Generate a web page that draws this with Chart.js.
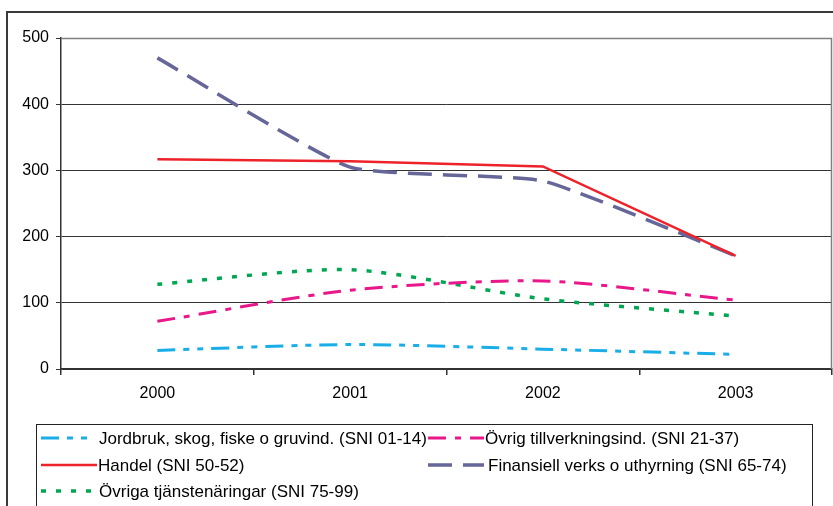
<!DOCTYPE html>
<html>
<head>
<meta charset="utf-8">
<script src="https://cdn.jsdelivr.net/npm/chart.js@4/dist/chart.umd.min.js"></script>
<style>
  html, body { margin: 0; padding: 0; background: #fff; overflow: hidden; }
  #wrap { width: 833px; height: 506px; }
</style>
</head>
<body>
<div id="wrap"><canvas id="chart" width="833" height="506"></canvas></div>
<script>
const years = ["2000", "2001", "2002", "2003"];

const jordbruk = [28, 37, 30, 22];
const tillverkning = [72, 119, 133, 104];
const handel = [317, 314, 306, 171];
const finansiell = [470, 305, 284, 171];
const tjanster = [128, 150, 106, 80];

const seriesNames = [
  "Jordbruk, skog, fiske o gruvind. (SNI 01-14)",
  "Övrig tillverkningsind. (SNI 21-37)",
  "Handel (SNI 50-52)",
  "Finansiell verks o uthyrning (SNI 65-74)",
  "Övriga tjänstenäringar (SNI 75-99)"
];

const FONT = "'Liberation Sans', Arial, sans-serif";

// outer frame, plot border, legend box
const framePlugin = {
  id: "frame",
  beforeDraw(chart) {
    const ctx = chart.ctx;
    ctx.save();
    ctx.fillStyle = "#fff";
    ctx.fillRect(0, 0, chart.width, chart.height);
    ctx.strokeStyle = "#3a3a3a";
    ctx.lineWidth = 2;
    ctx.strokeRect(7, 12, 860, 520);
    ctx.restore();
  },
  afterDatasetsDraw(chart) {
    const { ctx, chartArea } = chart;
    ctx.save();
    ctx.strokeStyle = "#808080";
    ctx.lineWidth = 1.5;
    ctx.beginPath();
    ctx.moveTo(chartArea.left, chartArea.top + 0.5);
    ctx.lineTo(chartArea.right - 0.5, chartArea.top + 0.5);
    ctx.lineTo(chartArea.right - 0.5, chartArea.bottom);
    ctx.stroke();
    ctx.restore();
  },
  afterDraw(chart) {
    const ctx = chart.ctx;
    ctx.save();
    ctx.strokeStyle = "#222";
    ctx.lineWidth = 1;
    ctx.strokeRect(36.5, 424.5, 776, 100);

    const spots = [
      { lx: 41, lw: 51, tx: 99, y: 438 },
      { lx: 428, lw: 56, tx: 485, y: 438 },
      { lx: 41, lw: 56, tx: 98, y: 465 },
      { lx: 428, lw: 56, tx: 488, y: 465 },
      { lx: 41, lw: 51, tx: 99, y: 491 }
    ];
    chart.data.datasets.forEach((ds, i) => {
      const s = spots[i];
      ctx.strokeStyle = ds.borderColor;
      ctx.lineWidth = ds.borderWidth;
      ctx.setLineDash(ds.borderDash || []);
      ctx.beginPath();
      ctx.moveTo(s.lx, s.y);
      ctx.lineTo(s.lx + s.lw, s.y);
      ctx.stroke();
      ctx.setLineDash([]);
      ctx.fillStyle = "#000";
      ctx.font = "17px " + FONT;
      ctx.textBaseline = "middle";
      ctx.textAlign = "left";
      ctx.fillText(ds.label, s.tx, s.y + 1);
    });
    ctx.restore();
  }
};

new Chart(document.getElementById("chart"), {
  type: "line",
  plugins: [framePlugin],
  data: {
    labels: years,
    datasets: [
      {
        label: seriesNames[0],
        data: jordbruk,
        borderColor: "#19aee8",
        borderWidth: 3,
        borderDash: [18, 8, 6, 8, 6, 8],
        tension: 0.25
      },
      {
        label: seriesNames[1],
        data: tillverkning,
        borderColor: "#e8178a",
        borderWidth: 3,
        borderDash: [18, 9, 6, 9],
        tension: 0.25
      },
      {
        label: seriesNames[2],
        data: handel,
        borderColor: "#ee2229",
        borderWidth: 2.5,
        tension: 0
      },
      {
        label: seriesNames[3],
        data: finansiell,
        borderColor: "#666699",
        borderWidth: 3.5,
        borderDash: [24, 11],
        tension: 0.15
      },
      {
        label: seriesNames[4],
        data: tjanster,
        borderColor: "#00a651",
        borderWidth: 3.5,
        borderDash: [5, 10],
        tension: 0.25
      }
    ]
  },
  options: {
    responsive: false,
    animation: false,
    layout: { padding: { left: 0, top: 38, right: 1, bottom: 0 } },
    elements: {
      point: { radius: 0, hoverRadius: 0 },
      line: { borderCapStyle: "butt", fill: false }
    },
    plugins: {
      legend: { display: false },
      tooltip: { enabled: false },
      title: { display: false }
    },
    scales: {
      x: {
        offset: true,
        afterFit(scale) { scale.height = 137; },
        grid: {
          offset: true,
          drawOnChartArea: false,
          drawTicks: true,
          tickLength: 6,
          color: "#333",
          lineWidth: 1.5
        },
        border: { color: "#333", width: 1.5 },
        ticks: {
          color: "#000",
          font: { size: 16, family: FONT },
          padding: 9,
          maxRotation: 0
        }
      },
      y: {
        min: 0,
        max: 500,
        afterFit(scale) { scale.width = 61; },
        grid: {
          color: "#333",
          lineWidth: 1,
          tickLength: 5,
          drawTicks: true
        },
        border: { color: "#333", width: 1.5 },
        ticks: {
          stepSize: 100,
          color: "#000",
          font: { size: 16, family: FONT },
          padding: 7
        }
      }
    }
  }
});
</script>
</body>
</html>
